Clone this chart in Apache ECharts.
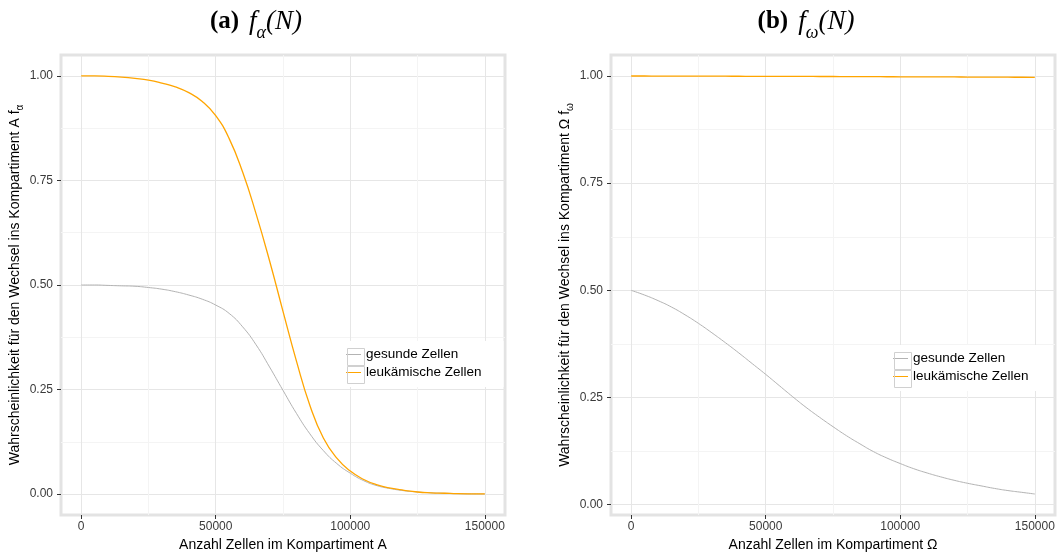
<!DOCTYPE html>
<html>
<head>
    <meta charset="utf-8">
    <title>f_alpha / f_omega</title>
    <script src="https://cdn.jsdelivr.net/npm/echarts@6/dist/echarts.min.js"></script>
    <style>
        html, body { margin: 0; padding: 0; background: #fff; }
        #chart { width: 1057px; height: 554px; }
    </style>
</head>
<body>
<div id="chart"></div>
<script>
    // Anzahl Zellen (x)
    var zellenN = [0, 5000, 10000, 15000, 20000, 25000, 30000, 35000, 40000, 45000,
        50000, 55000, 60000, 65000, 70000, 75000, 80000, 85000, 90000, 95000,
        100000, 105000, 110000, 115000, 120000, 125000, 130000, 135000, 140000, 145000, 150000];

    // (a) Kompartiment A
    var gesundAlpha = [0.500, 0.500, 0.499, 0.498, 0.497, 0.494, 0.490, 0.484, 0.476, 0.466,
        0.452, 0.432, 0.400, 0.357, 0.304, 0.248, 0.193, 0.144, 0.104, 0.073,
        0.050, 0.032, 0.020, 0.013, 0.008, 0.005, 0.003, 0.002, 0.001, 0.0005, 0.0003];
    var leukAlpha = [1.000, 1.000, 0.999, 0.997, 0.994, 0.990, 0.983, 0.974, 0.960, 0.939,
        0.905, 0.850, 0.770, 0.670, 0.558, 0.437, 0.318, 0.212, 0.134, 0.086,
        0.055, 0.035, 0.022, 0.014, 0.009, 0.005, 0.003, 0.002, 0.001, 0.0005, 0.0003];

    // (b) Kompartiment Omega
    var gesundOmega = [0.500, 0.489, 0.476, 0.461, 0.443, 0.423, 0.401, 0.378, 0.354, 0.329,
        0.304, 0.278, 0.252, 0.227, 0.204, 0.182, 0.161, 0.142, 0.124, 0.109,
        0.096, 0.084, 0.074, 0.065, 0.057, 0.050, 0.044, 0.038, 0.033, 0.029, 0.025];
    var leukOmega = [1.000, 1.000, 0.9999, 0.9999, 0.9998, 0.9997, 0.9996, 0.9995, 0.9994, 0.9993,
        0.9993, 0.9992, 0.9991, 0.9990, 0.9989, 0.9988, 0.9987, 0.9986, 0.9985, 0.9983,
        0.9982, 0.9981, 0.9980, 0.9979, 0.9978, 0.9976, 0.9975, 0.9974, 0.9972, 0.9971, 0.9970];

    var xTicks = [0, 50000, 100000, 150000];
    var xMinor = [25000, 75000, 125000];
    var yTicks = [0, 0.25, 0.5, 0.75, 1];
    var yMinor = [0.125, 0.375, 0.625, 0.875];

    var seriesNames = ['gesunde Zellen', 'leukämische Zellen'];
    var seriesColors = ['#b3b3b3', '#ffa500'];

    function pairs(ys) {
        return zellenN.map(function (x, i) { return [x, ys[i]]; });
    }

    var font = 'Liberation Sans, Arial, sans-serif';
    var serif = 'Liberation Serif, DejaVu Serif, serif';

    function mainX(gridIndex, name) {
        return {
            type: 'value', gridIndex: gridIndex, min: -7500, max: 157500,
            name: name, nameLocation: 'middle', nameGap: 6,
            nameTextStyle: { fontFamily: font, fontSize: 14, color: '#000' },
            axisLine: { show: false, onZero: false },
            axisTick: { show: true, length: 4, customValues: xTicks, lineStyle: { color: '#333' } },
            axisLabel: {
                customValues: xTicks, margin: 6, fontFamily: font, fontSize: 12, color: '#3a3a3a',
                formatter: function (v) { return String(v); }
            },
            splitLine: { show: true, lineStyle: { color: '#e6e6e6', width: 1 } }
        };
    }
    function minorX(gridIndex) {
        return {
            type: 'value', gridIndex: gridIndex, min: -7500, max: 157500, position: 'top',
            axisLine: { show: false, onZero: false }, axisLabel: { show: false },
            axisTick: { show: false, customValues: xMinor },
            splitLine: { show: true, lineStyle: { color: '#f4f4f4', width: 1 } }
        };
    }
    function mainY(gridIndex, min, max, sym) {
        return {
            type: 'value', gridIndex: gridIndex, min: min, max: max,
            name: 'Wahrscheinlichkeit für den Wechsel ins Kompartiment ' + sym[0] + ' f{s|' + sym[1] + '}',
            nameLocation: 'middle', nameGap: 2,
            nameTextStyle: {
                fontFamily: font, fontSize: 14, color: '#000', lineHeight: 16,
                rich: { s: { fontFamily: font, fontSize: 10, color: '#000', verticalAlign: 'bottom', lineHeight: 22 } }
            },
            axisLine: { show: false, onZero: false },
            axisTick: { show: true, length: 4, customValues: yTicks, lineStyle: { color: '#333' } },
            axisLabel: {
                customValues: yTicks, margin: 8, fontFamily: font, fontSize: 12, color: '#3a3a3a',
                formatter: function (v) { return v.toFixed(2); }
            },
            splitLine: { show: true, lineStyle: { color: '#e6e6e6', width: 1 } }
        };
    }
    function minorY(gridIndex, min, max) {
        return {
            type: 'value', gridIndex: gridIndex, min: min, max: max, position: 'right',
            axisLine: { show: false, onZero: false }, axisLabel: { show: false },
            axisTick: { show: false, customValues: yMinor },
            splitLine: { show: true, lineStyle: { color: '#f4f4f4', width: 1 } }
        };
    }
    function line(name, color, width, data, gi) {
        return {
            name: name, type: 'line', xAxisIndex: gi * 2, yAxisIndex: gi * 2,
            data: pairs(data), showSymbol: false, smooth: true, z: 5,
            lineStyle: { color: color, width: width }, itemStyle: { color: color }
        };
    }
    function legend(left, top) {
        return {
            orient: 'vertical', left: left, top: top, padding: [5, 22, 6, 5],
            backgroundColor: '#fff', itemGap: 1, itemWidth: 17, itemHeight: 17,
            icon: 'path://M0,0h0.01v0.01h-0.01z M1,8h15v1.1h-15z M16.99,16.99h0.01v0.01h-0.01z',
            textStyle: { fontFamily: font, fontSize: 13.5, color: '#000', padding: [0, 0, 0, -1] },
            data: seriesNames, selectedMode: false, z: 6
        };
    }
    function keyBoxes(x, y) {
        return [0, 1].map(function (i) {
            return {
                type: 'rect', left: x, top: y + i * 18, z: 100,
                shape: { width: 17, height: 17 },
                style: { fill: null, stroke: '#d0d0d0', lineWidth: 1 }
            };
        });
    }
    function caption(cx, letter, sub) {
        return {
            type: 'text', x: cx, y: 22, z: 100,
            style: {
                text: '{b|(' + letter + ')}   {i|f}{s|' + sub + '}{i|(N)}',
                align: 'center', verticalAlign: 'middle',
                rich: {
                    b: { fontFamily: serif, fontWeight: 'bold', fontSize: 25, fill: '#000' },
                    i: { fontFamily: serif, fontStyle: 'italic', fontSize: 27, fill: '#000' },
                    s: { fontFamily: serif, fontStyle: 'italic', fontSize: 18, fill: '#000', verticalAlign: 'bottom', lineHeight: 40 }
                }
            }
        };
    }

    var chart = echarts.init(document.getElementById('chart'));
    chart.setOption({
        animation: false,
        color: seriesColors,
        grid: [
            { left: 61, top: 55, width: 444, height: 460, outerBoundsMode: 'none', show: true, borderColor: '#e3e3e3', borderWidth: 3, backgroundColor: '#fff' },
            { left: 611, top: 55, width: 444, height: 460, outerBoundsMode: 'none', show: true, borderColor: '#e3e3e3', borderWidth: 3, backgroundColor: '#fff' }
        ],
        xAxis: [
            mainX(0, 'Anzahl Zellen im Kompartiment A'), minorX(0),
            mainX(1, 'Anzahl Zellen im Kompartiment Ω'), minorX(1)
        ],
        yAxis: [
            mainY(0, -0.05, 1.05, ['A', 'α']), minorY(0, -0.05, 1.05),
            mainY(1, -0.024, 1.049, ['Ω', 'ω']), minorY(1, -0.024, 1.049)
        ],
        legend: [legend(340, 341), legend(887, 345)],
        series: [
            line(seriesNames[0], seriesColors[0], 1, gesundAlpha, 0),
            line(seriesNames[1], seriesColors[1], 1.3, leukAlpha, 0),
            line(seriesNames[0], seriesColors[0], 1, gesundOmega, 1),
            line(seriesNames[1], seriesColors[1], 1.3, leukOmega, 1)
        ],
        graphic: keyBoxes(345, 346).concat(keyBoxes(892, 350)).concat([
            caption(256, 'a', 'α'), caption(806, 'b', 'ω')
        ])
    });
</script>
</body>
</html>
